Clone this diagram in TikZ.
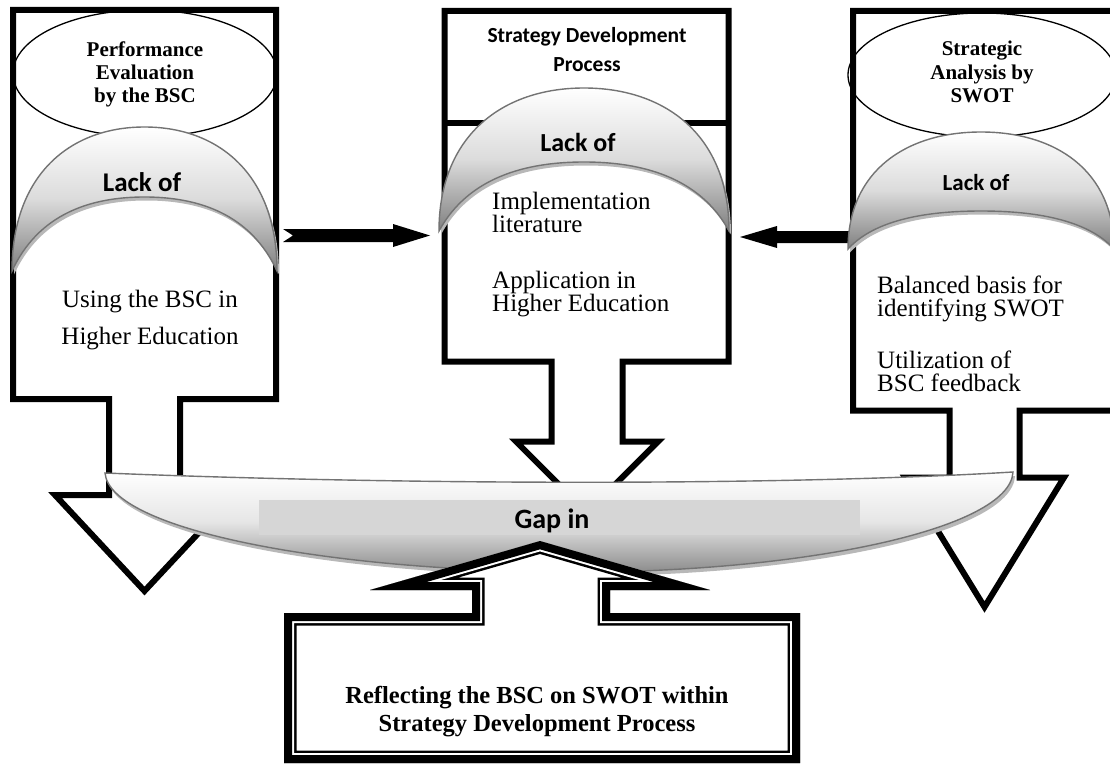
\documentclass[tikz,border=0pt]{standalone}
\usepackage{fontspec}
\setmainfont{Liberation Serif}
\newfontfamily\calibri{Carlito}
\usetikzlibrary{calc}

% crescent band: #1 = style, left x, right x, tip y, outer top y, inner top y
\newcommand\moonband[6]{%
  \path[#1] (#2,#4)
    .. controls (#2,{#4-0.67*(#4-#5)}) and ({(#2+#3)/2-0.28*(#3-#2)},#5) .. ({(#2+#3)/2},#5)
    .. controls ({(#2+#3)/2+0.28*(#3-#2)},#5) and (#3,{#4-0.67*(#4-#5)}) .. (#3,#4)
    .. controls ({#3-0.1*(#3-#2)},{#4-0.77*(#4-#6)}) and ({(#2+#3)/2+0.205*(#3-#2)},#6) .. ({(#2+#3)/2},#6)
    .. controls ({(#2+#3)/2-0.205*(#3-#2)},#6) and ({#2+0.1*(#3-#2)},{#4-0.77*(#4-#6)}) .. (#2,#4) -- cycle;}

% lens carrying the "Gap in" banner
\newcommand\gaplens[1]{%
  \path[#1] (105,473) .. controls (400,485) and (780,486) .. (1013,472)
    .. controls (1010,530) and (800,572) .. (580,572)
    .. controls (330,572) and (110,530) .. (105,473) -- cycle;}

% bottom box with its upward arrow
\newcommand\resultshape[1]{%
  \path[#1] (284,613) -- (472,613) -- (472,590) -- (370,590) -- (540,541)
    -- (710,590) -- (610,590) -- (610,613) -- (800,613) -- (800,763)
    -- (284,763) -- cycle;}

\begin{document}
\begin{tikzpicture}[x=1pt,y=-1pt,
  callout/.style={draw=black, line width=6pt, fill=white, line join=miter},
  moonfill/.style={draw=black!55, line width=1.4pt, top color=white,
    bottom color=black!50, middle color=black!14},
  moonshade/.style={fill=black!28, shift={(2,3.5)}},
  eltext/.style={font=\bfseries\fontsize{21}{24}\selectfont, inner sep=0pt, anchor=base},
  headtext/.style={font=\calibri\bfseries\fontsize{21.5}{24}\selectfont, inner sep=0pt, anchor=base},
  lacktext/.style={font=\calibri\bfseries\fontsize{27}{30}\selectfont, inner sep=0pt, anchor=base},
  bodytext/.style={font=\fontsize{25}{30}\selectfont, inner sep=0pt, anchor=base west},
  resulttext/.style={font=\bfseries\fontsize{24.5}{30}\selectfont, inner sep=0pt, anchor=base},
  blockarrow/.style={fill=black}
]
\useasboundingbox (0,0) rectangle (1110,770);
\clip (0,0) rectangle (1110,770);
\fill[white] (0,0) rectangle (1110,770);

% ---------- three callout boxes with downward arrows ----------
\path[callout] (13,10) -- (276,10) -- (276,399) -- (180,399) -- (180,495) -- (234,495)
  -- (144.5,591) -- (55,495) -- (109,495) -- (109,399) -- (13,399) -- cycle;
\path[callout] (444.5,11) -- (728.5,11) -- (728.5,361.5) -- (622.5,361.5) -- (622.5,441.5)
  -- (658,441.5) -- (587,512.5) -- (516,441.5) -- (551.5,441.5) -- (551.5,361.5)
  -- (444.5,361.5) -- cycle;
\draw[line width=6pt] (444.5,123.5) -- (728.5,123.5);
\path[callout] (853,11) -- (1120,11) -- (1120,410.5) -- (1019.5,410.5) -- (1019.5,477.5)
  -- (1064,477.5) -- (984.5,607) -- (905,477.5) -- (949.5,477.5) -- (949.5,410.5)
  -- (853,410.5) -- cycle;

% ---------- ellipses ----------
\draw[line width=1.3pt] (145,73.5) ellipse [x radius=132, y radius=63.5];
\draw[line width=1.3pt] (982,75) ellipse [x radius=134, y radius=62];

\node[eltext] (pe1) at (145,57) {Performance};
\node[eltext] (pe2) at (145,80) {Evaluation};
\node[eltext] (pe3) at (145,103) {by the BSC};
\node[eltext] (sa1) at (982,56) {Strategic};
\node[eltext] (sa2) at (982,79.5) {Analysis by};
\node[eltext] (sa3) at (982,103) {SWOT};
\node[headtext] (sd1) at (587,43) {Strategy Development};
\node[headtext] (sd2) at (587,72) {Process};

% ---------- horizontal block arrows ----------
\coordinate (la0) at (283,235.5);
\coordinate (la1) at (430,235.5);
\fill[blockarrow] ($(la0)+(0,-6.5)$) -- ($(la1)+(-37,-6.5)$) -- ($(la1)+(-37,-11.5)$) -- (la1)
  -- ($(la1)+(-37,11.5)$) -- ($(la1)+(-37,6.5)$) -- ($(la0)+(0,6.5)$) -- ($(la0)+(10,0)$) -- cycle;
\coordinate (ra0) at (852,237);
\coordinate (ra1) at (740,237);
\fill[blockarrow] ($(ra0)+(0,-6)$) -- ($(ra1)+(37,-6)$) -- ($(ra1)+(37,-11)$) -- (ra1)
  -- ($(ra1)+(37,11)$) -- ($(ra1)+(37,6)$) -- ($(ra0)+(0,6)$) -- cycle;

% ---------- "Lack of" crescents ----------
\moonband{moonshade}{12}{277}{271}{127}{197}
\moonband{moonfill}{12}{277}{271}{127}{197}
\moonband{moonshade}{439}{729}{231}{88}{162}
\moonband{moonfill}{439}{729}{231}{88}{162}
\moonband{moonshade}{848}{1114}{249}{132}{211}
\moonband{moonfill}{848}{1114}{249}{132}{211}

\node[lacktext] (lk1) at (142,192) {Lack of};
\node[lacktext, font=\calibri\bfseries\fontsize{26}{30}\selectfont] (lk2) at (578,152) {Lack of};
\node[lacktext, font=\calibri\bfseries\fontsize{23}{28}\selectfont] (lk3) at (976,190) {Lack of};

% ---------- body texts ----------
\node[bodytext, anchor=base] (ub1) at (150,307) {Using the BSC in};
\node[bodytext, anchor=base] (ub2) at (150,344) {Higher Education};
\node[bodytext] (im1) at (492,209.5) {Implementation};
\node[bodytext] (im2) at (492,232.5) {literature};
\node[bodytext] (ap1) at (492,288) {Application in};
\node[bodytext] (ap2) at (492,311) {Higher Education};
\node[bodytext] (bb1) at (877,293) {Balanced basis for};
\node[bodytext] (bb2) at (877,316) {identifying SWOT};
\node[bodytext] (ut1) at (877,368) {Utilization of};
\node[bodytext] (ut2) at (877,391) {BSC feedback};

% ---------- gap lens ----------
\gaplens{fill=black!28, shift={(2,4)}}
\gaplens{draw=black!55, line width=1.4pt, top color=white, bottom color=black!45, middle color=black!10}
\fill[black!16] (259,500) rectangle (860,535);
\node[lacktext, font=\calibri\bfseries\fontsize{28}{30}\selectfont] (gap) at (552,528) {Gap in};

% ---------- result box with thick-thin frame ----------
\resultshape{fill=white}
\begin{scope}
  \resultshape{clip}
  \resultshape{draw=black, line width=25pt, line join=miter}
  \resultshape{draw=white, line width=20pt, line join=miter}
  \resultshape{draw=black, line width=16pt, line join=miter}
\end{scope}
\node[resulttext] (rf1) at (537,703) {Reflecting the BSC on SWOT within};
\node[resulttext] (rf2) at (537,731) {Strategy Development Process};
\end{tikzpicture}
\end{document}
